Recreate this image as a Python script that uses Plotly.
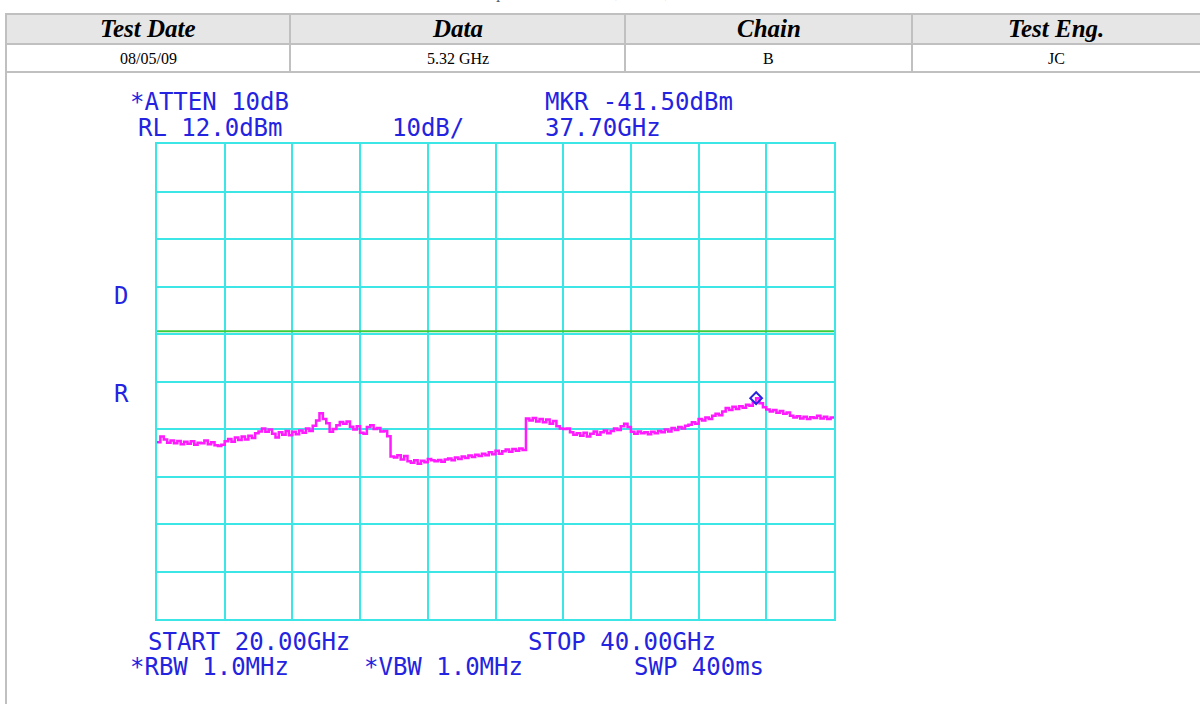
import numpy as np
import plotly.graph_objects as go

# ---------------- data ----------------
table_headers = ["Test Date", "Data", "Chain", "Test Eng."]
table_values = ["08/05/09", "5.32 GHz", "B", "JC"]

start_ghz = 20.0
stop_ghz = 40.0
ref_level = 12.0          # dBm
db_per_div = 10.0
display_line = -27.4      # dBm (green line)
marker_freq = 37.70       # GHz
marker_level = -41.50     # dBm

trace_dbm = [
    -50.8, -49.6, -50.2, -50.9, -50.4, -51.0, -50.5, -51.2, -50.7, -51.1,
    -50.6, -51.3, -50.9, -51.0, -50.4, -51.2, -50.8, -51.4, -51.6, -51.3,
    -50.6, -50.1, -50.7, -49.8, -50.3, -49.6, -50.2, -49.4, -49.9, -48.9,
    -48.5, -47.9, -48.6, -48.1, -49.0, -49.8, -48.7, -49.2, -48.4, -49.3,
    -48.6, -49.1, -48.3, -48.8, -47.9, -48.4, -47.3, -46.2, -44.7, -45.9,
    -46.8, -48.6, -48.0, -47.2, -46.5, -46.9, -46.4, -47.5, -48.1, -47.4,
    -48.8, -49.0, -47.6, -47.2, -48.0, -47.8, -48.5, -48.4, -49.5, -53.8,
    -54.0, -53.5, -54.4, -53.7, -54.8, -55.1, -54.6, -55.3, -54.7, -55.0,
    -54.3, -54.6, -54.8, -54.5, -54.9, -54.4, -54.2, -54.6, -54.0, -54.3,
    -53.8, -54.1, -53.6, -53.9, -53.4, -53.7, -53.2, -53.5, -52.9, -53.3,
    -52.6, -53.2, -52.7, -52.3, -52.8, -52.2, -52.6, -52.1, -52.4, -45.8,
    -46.2, -45.7, -46.4, -45.9, -46.6, -46.0, -46.9, -46.3, -47.4, -47.9,
    -48.0, -47.9, -48.7, -49.2, -48.9, -49.4, -48.8, -49.6, -49.0, -48.5,
    -49.2, -48.7, -48.3, -48.9, -48.4, -47.9, -48.2, -47.4, -46.9, -47.6,
    -48.6, -49.0, -48.5, -48.9, -48.7, -49.1, -48.6, -48.9, -48.4, -48.7,
    -48.1, -48.5, -47.8, -48.2, -47.6, -47.9, -47.3, -47.1, -46.6, -46.9,
    -45.9, -46.2, -45.6, -45.9, -45.2, -44.8, -45.1, -44.3, -43.6, -44.0,
    -43.3, -43.8, -43.2, -43.5, -42.9, -43.1, -42.4, -41.5, -42.6, -43.4,
    -43.9, -44.3, -44.0, -44.6, -44.2, -44.8, -44.5, -45.2, -45.6, -45.3,
    -45.8, -45.4, -45.9, -45.5, -45.7, -45.2, -45.8, -45.4, -45.9, -45.6,
    -45.8,
]
freqs_ghz = np.linspace(start_ghz, stop_ghz, len(trace_dbm))

top_left_text = ["*ATTEN 10dB", "RL 12.0dBm"]
top_mid_text = "10dB/"
top_right_text = ["MKR -41.50dBm", "37.70GHz"]
bottom_text_1 = ["START 20.00GHz", "STOP 40.00GHz"]
bottom_text_2 = ["*RBW 1.0MHz", "*VBW 1.0MHz", "SWP 400ms"]
side_labels = ["D", "R"]

# ---------------- layout helpers ----------------
W, H = 1200, 704
PL, PR, PT, PB = 157, 834, 144, 619   # plot area pixels


def px(x):
    return (x - PL) / (PR - PL)


def py(y):
    return (PB - y) / (PB - PT)


INSTR_BLUE = "#2323e0"
GRID_CYAN = "#3de6e6"
TABLE_GRAY = "#c0c0c0"
MONO = "DejaVu Sans Mono"
SERIF = "Liberation Serif, Times New Roman, serif"

fig = go.Figure()

fig.add_trace(go.Scatter(
    x=freqs_ghz, y=trace_dbm, mode="lines", line_shape="hv",
    line=dict(color="#ff1aff", width=2.5), hoverinfo="skip", showlegend=False,
))
fig.add_trace(go.Scatter(
    x=[start_ghz, stop_ghz], y=[display_line, display_line], mode="lines",
    line=dict(color="#3ccc3c", width=2), hoverinfo="skip", showlegend=False,
))
fig.add_trace(go.Scatter(
    x=[marker_freq], y=[marker_level], mode="markers",
    marker=dict(symbol="diamond-open", size=9, color=INSTR_BLUE,
                line=dict(width=2, color=INSTR_BLUE)),
    hoverinfo="skip", showlegend=False,
))

shapes = []
annotations = []

# ---- table ----
col_edges = [6, 290, 625, 912, 1200]
row_edges = [14, 44, 72]
shapes.append(dict(type="rect", xref="paper", yref="paper",
                   x0=px(6), x1=px(1200), y0=py(44), y1=py(14),
                   fillcolor="#e6e6e6", line=dict(width=0), layer="below"))
for yy in row_edges:
    shapes.append(dict(type="line", xref="paper", yref="paper",
                       x0=px(5), x1=px(1200), y0=py(yy), y1=py(yy),
                       line=dict(color=TABLE_GRAY, width=2)))
for i, xx in enumerate(col_edges[:-1]):
    y_end = 704 if i == 0 else 72
    shapes.append(dict(type="line", xref="paper", yref="paper",
                       x0=px(xx), x1=px(xx), y0=py(14), y1=py(y_end),
                       line=dict(color=TABLE_GRAY, width=2)))

for i, (hdr, val) in enumerate(zip(table_headers, table_values)):
    cx = (col_edges[i] + col_edges[i + 1]) / 2
    annotations.append(dict(
        x=px(cx), y=py(29), xref="paper", yref="paper", showarrow=False,
        text=f"<b><i>{hdr}</i></b>", font=dict(family=SERIF, size=25, color="black"),
        xanchor="center", yanchor="middle"))
    annotations.append(dict(
        x=px(cx), y=py(58), xref="paper", yref="paper", showarrow=False,
        text=val, font=dict(family=SERIF, size=16, color="black"),
        xanchor="center", yanchor="middle"))

# clipped title at top of page (only its lower edge is visible)
annotations.append(dict(
    x=px(600), y=py(-7), xref="paper", yref="paper", showarrow=False,
    text="<i>Conducted Spurious Emissions, 5 GHz, 20 GHz - 40 GHz</i>",
    font=dict(family=SERIF, size=16, color="#555555"),
    xanchor="center", yanchor="middle"))

# ---- instrument texts ----
def instr(text, x, y, size=24):
    annotations.append(dict(
        x=px(x), y=py(y), xref="paper", yref="paper", showarrow=False,
        text=text, font=dict(family=MONO, size=size, color=INSTR_BLUE),
        xanchor="left", yanchor="middle"))


instr(top_left_text[0], 128, 102)
instr(top_left_text[1], 136, 128)
instr(top_mid_text, 390, 128)
instr(top_right_text[0], 543, 102)
instr(top_right_text[1], 543, 128)
instr(bottom_text_1[0], 146, 642)
instr(bottom_text_1[1], 526, 642)
instr(bottom_text_2[0], 128, 667)
instr(bottom_text_2[1], 362, 667)
instr(bottom_text_2[2], 632, 667)
instr(side_labels[0], 112, 296)
instr(side_labels[1], 112, 394)

fig.update_layout(
    width=W, height=H,
    margin=dict(l=PL, r=W - PR, t=PT, b=H - PB, pad=0),
    paper_bgcolor="white", plot_bgcolor="white",
    shapes=shapes, annotations=annotations,
    showlegend=False,
)
fig.update_xaxes(
    range=[start_ghz, stop_ghz], tick0=start_ghz, dtick=(stop_ghz - start_ghz) / 10,
    showgrid=True, gridcolor=GRID_CYAN, gridwidth=2,
    showline=True, linecolor=GRID_CYAN, linewidth=2, mirror=True,
    showticklabels=False, ticks="", zeroline=False, fixedrange=True,
)
fig.update_yaxes(
    range=[ref_level - 10 * db_per_div, ref_level], tick0=ref_level, dtick=db_per_div,
    showgrid=True, gridcolor=GRID_CYAN, gridwidth=2,
    showline=True, linecolor=GRID_CYAN, linewidth=2, mirror=True,
    showticklabels=False, ticks="", zeroline=False, fixedrange=True,
)

fig.write_html(
    "out.html",
    config={"displayModeBar": False},
    post_script="document.body.style.margin='0';document.body.style.padding='0';",
)
